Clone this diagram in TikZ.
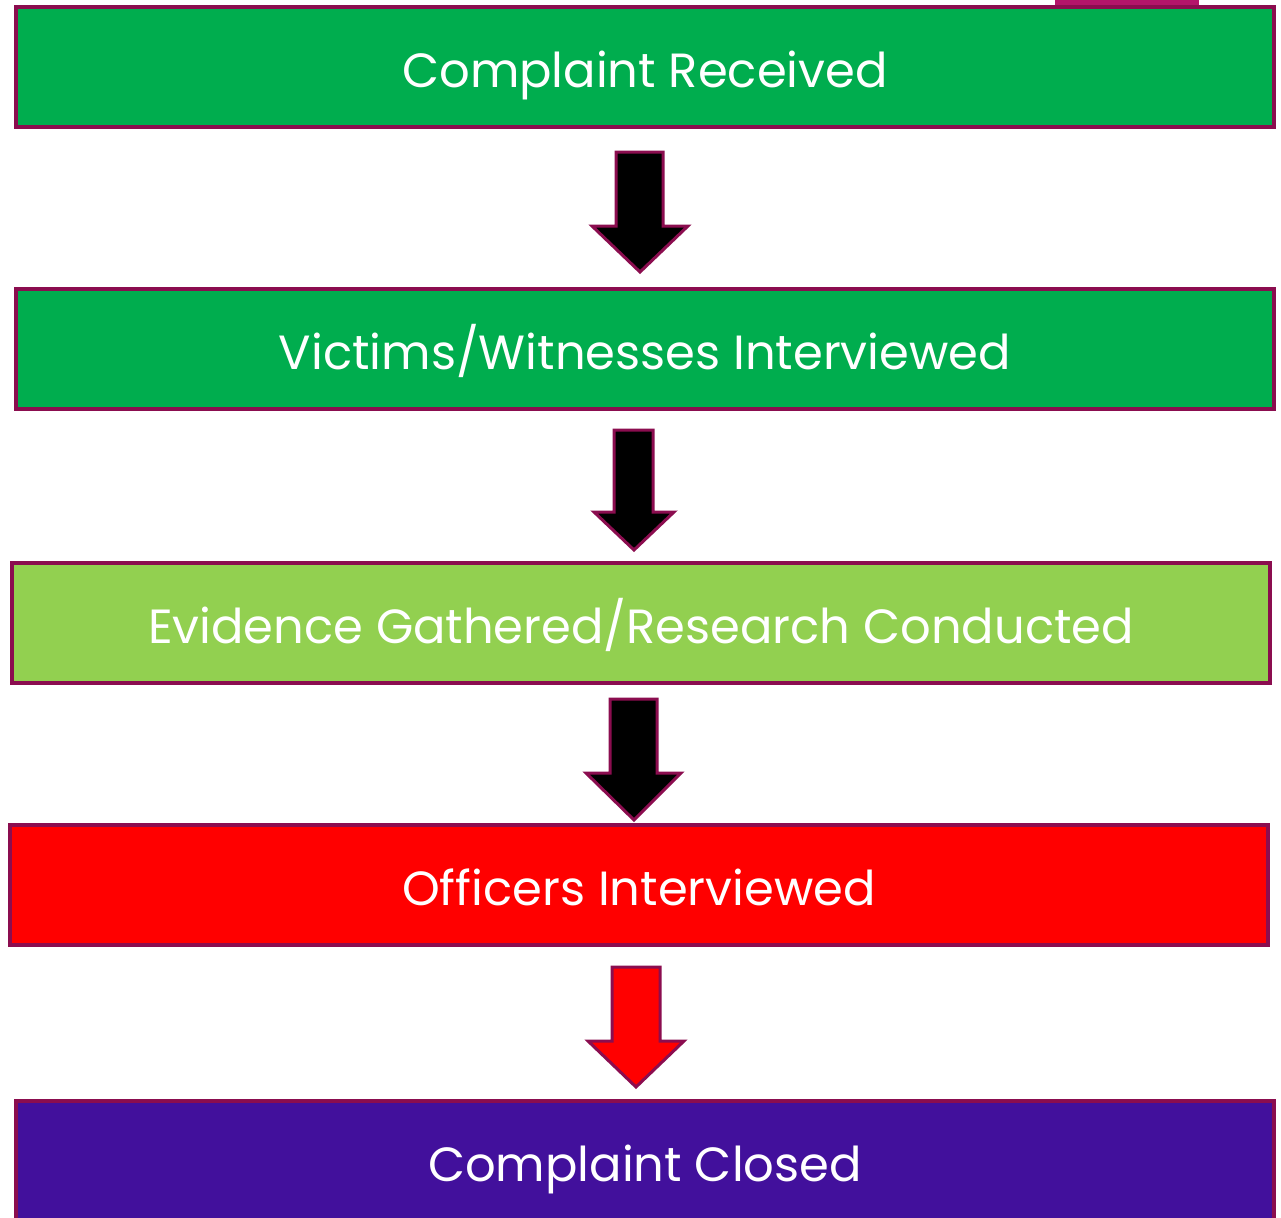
\documentclass[tikz,border=0pt]{standalone}
\usepackage{fontspec}
\setmainfont{Poppins}
\usepackage{xcolor}
\usetikzlibrary{positioning}
\definecolor{stepgreen}{HTML}{00AD4E}
\definecolor{steplime}{HTML}{92D050}
\definecolor{stepred}{HTML}{FF0000}
\definecolor{steppurple}{HTML}{42109C}
\definecolor{rim}{HTML}{8B0D4F}
\definecolor{tabpink}{HTML}{B4156A}

\begin{document}
\begin{tikzpicture}[x=0.5pt,y=-0.5pt,
stepbox/.style={rectangle,draw=rim,line width=1.6pt,minimum width=629pt,
minimum height=60pt,text height=20pt,text depth=0pt,text=white,
font=\fontsize{24}{28}\selectfont},
blockarrow/.style={draw=rim,line width=1.5pt,line join=miter}]
\useasboundingbox (0,0) rectangle (1281,1217);

% tab behind the first box
\fill[tabpink] (1055,0) rectangle (1199,10);

\node (Received) [stepbox,fill=stepgreen] at (645,67) {Complaint Received};
\node (Interviewed) [stepbox,fill=stepgreen] at (645,349) {Victims/Witnesses Interviewed};
\node (Evidence) [stepbox,fill=steplime] at (641,623) {Evidence Gathered/Research Conducted};
\node (Officers) [stepbox,fill=stepred] at (639,885) {Officers Interviewed};
\node (Closed) [stepbox,fill=steppurple] at (645,1161) {Complaint Closed};

% block arrows
\draw[blockarrow,fill=black] (616,152)--(663,152)--(663,226)--(688,226)--(640,272)
--(592,226)--(616,226)--cycle;
\draw[blockarrow,fill=black] (614,430)--(653,430)--(653,512)--(674,512)--(634,550)
--(594,512)--(614,512)--cycle;
\draw[blockarrow,fill=black] (610,699)--(657,699)--(657,773)--(681,773)--(634,820)
--(586,773)--(610,773)--cycle;
\draw[blockarrow,fill=stepred] (612,967)--(660,967)--(660,1041)--(684,1041)--(636,1087)
--(588,1041)--(612,1041)--cycle;

\end{tikzpicture}
\end{document}
